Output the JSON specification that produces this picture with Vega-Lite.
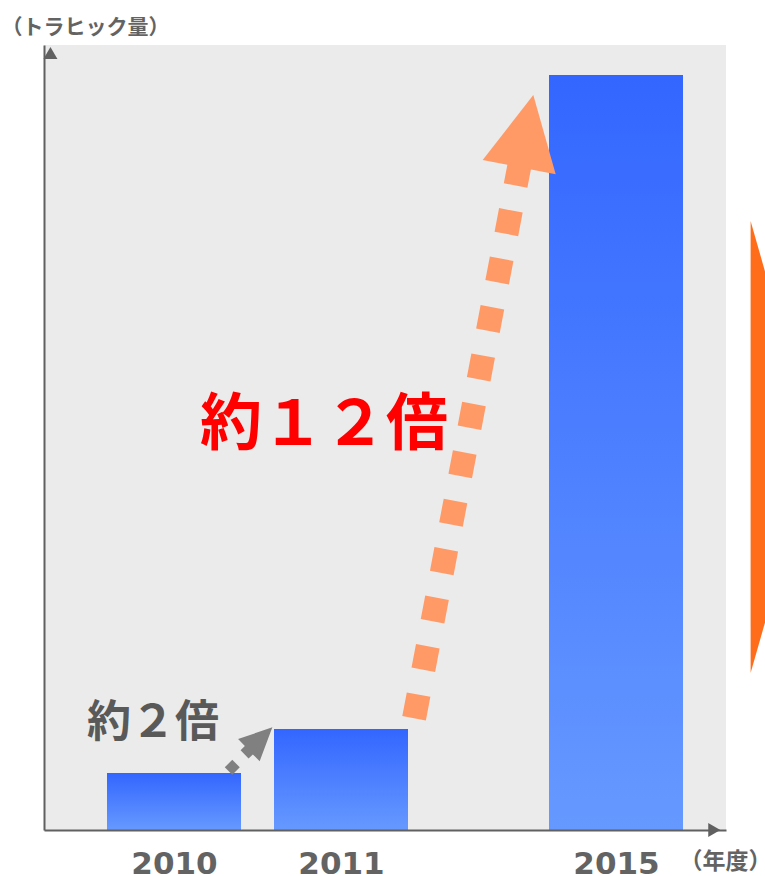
{
  "$schema": "https://vega.github.io/schema/vega-lite/v6.json",
  "width": 682,
  "height": 785,
  "autosize": {"type": "none"},
  "padding": {"left": 44, "top": 45, "right": 39, "bottom": 46},
  "background": "#ffffff",
  "config": {"view": {"fill": "#ebebeb", "stroke": null}},
  "encoding": {
    "x": {
      "field": "year",
      "type": "quantitative",
      "scale": {"domain": [2009, 2010, 2011, 2015, 2016], "range": [0, 130, 297, 572, 682], "nice": false, "zero": false},
      "axis": {
        "values": [2010, 2011, 2015],
        "format": "d",
        "grid": false,
        "ticks": false,
        "tickSize": 0,
        "domainColor": "#606060",
        "domainWidth": 2,
        "labelFont": "DejaVu Sans",
        "labelFontWeight": "bold",
        "labelFontSize": 31,
        "labelColor": "#636363",
        "labelBaseline": "alphabetic",
        "labelPadding": 43,
        "labelFlush": false,
        "labelOverlap": false,
        "zindex": 1,
        "title": "（年度）",
        "titleX": 681,
        "titleY": 38,
        "titleAlign": "center",
        "titleBaseline": "alphabetic",
        "titleFont": "Noto Sans CJK JP",
        "titleFontSize": 23,
        "titleFontWeight": "bold",
        "titleColor": "#636363"
      }
    },
    "y": {
      "field": "traffic",
      "type": "quantitative",
      "scale": {"domain": [0, 785], "nice": false, "zero": true},
      "axis": {
        "grid": false,
        "ticks": false,
        "labels": false,
        "domainColor": "#606060",
        "domainWidth": 2,
        "zindex": 1,
        "title": "（トラヒック量）",
        "titleAngle": 0,
        "titleX": 41,
        "titleY": -12,
        "titleAlign": "center",
        "titleBaseline": "alphabetic",
        "titleFont": "Noto Sans CJK JP",
        "titleFontSize": 21,
        "titleFontWeight": "bold",
        "titleColor": "#636363"
      }
    }
  },
  "layer": [
    {
      "data": {"values": [
        {"year": 2010, "traffic": 57},
        {"year": 2011, "traffic": 101},
        {"year": 2015, "traffic": 755}
      ]},
      "mark": {
        "type": "bar",
        "width": 134,
        "color": {
          "gradient": "linear",
          "x1": 0, "y1": 0, "x2": 0, "y2": 1,
          "stops": [
            {"offset": 0, "color": "#3366ff"},
            {"offset": 1, "color": "#6699ff"}
          ]
        }
      }
    },
    {
      "data": {"values": [
        {"year": 2012.063, "traffic": 111.8, "year2": 2013.601, "traffic2": 666.6}
      ]},
      "mark": {"type": "rule", "color": "#ff9966", "strokeWidth": 24, "strokeDash": [24, 25.3], "strokeCap": "butt"},
      "encoding": {
        "x2": {"field": "year2"},
        "y2": {"field": "traffic2"}
      }
    },
    {
      "data": {"values": [{"year": 2013.797, "traffic": 735}]},
      "mark": {"type": "point", "filled": true, "opacity": 1, "color": "#ff9966", "size": 10000, "shape": "M0,0L0.448,1.586L-1.012,1.3Z"}
    },
    {
      "data": {"values": [{"year": 2010.349, "traffic": 62.7}]},
      "mark": {"type": "point", "filled": true, "opacity": 1, "color": "#808080", "size": 225, "shape": "diamond"}
    },
    {
      "data": {"values": [{"year": 2010.589, "traffic": 102.7}]},
      "mark": {"type": "point", "filled": true, "opacity": 1, "color": "#808080", "size": 10000, "shape": "M0,0L-0.254,0.68L-0.39,0.542L-0.476,0.626L-0.636,0.458L-0.55,0.374L-0.686,0.236Z"}
    },
    {
      "data": {"values": [{"year": 2010.898, "traffic": 404, "label": "約１２倍"}]},
      "mark": {"type": "text", "font": "Noto Sans CJK JP", "fontWeight": "bold", "fontSize": 62, "color": "#ff0000", "align": "center", "baseline": "middle"},
      "encoding": {"text": {"field": "label"}}
    },
    {
      "data": {"values": [{"year": 2009.831, "traffic": 106, "label": "約２倍"}]},
      "mark": {"type": "text", "font": "Noto Sans CJK JP", "fontWeight": "bold", "fontSize": 44, "color": "#595959", "align": "center", "baseline": "middle"},
      "encoding": {"text": {"field": "label"}}
    },
    {
      "data": {"values": [{"year": 2009, "traffic": 777}]},
      "mark": {"type": "point", "filled": true, "opacity": 1, "color": "#606060", "size": 196, "shape": "triangle-up"}
    },
    {
      "data": {"values": [{"year": 2015.94, "traffic": 0}]},
      "mark": {"type": "point", "filled": true, "opacity": 1, "color": "#606060", "size": 196, "shape": "triangle-right"}
    },
    {
      "data": {"values": [{"year": 2016, "traffic": 383}]},
      "mark": {"type": "point", "filled": true, "opacity": 1, "color": "#ff6d1a", "size": 204304, "shape": "M0.133,-1L0.33,-0.31L0.33,0.31L0.133,1Z"}
    }
  ]
}
